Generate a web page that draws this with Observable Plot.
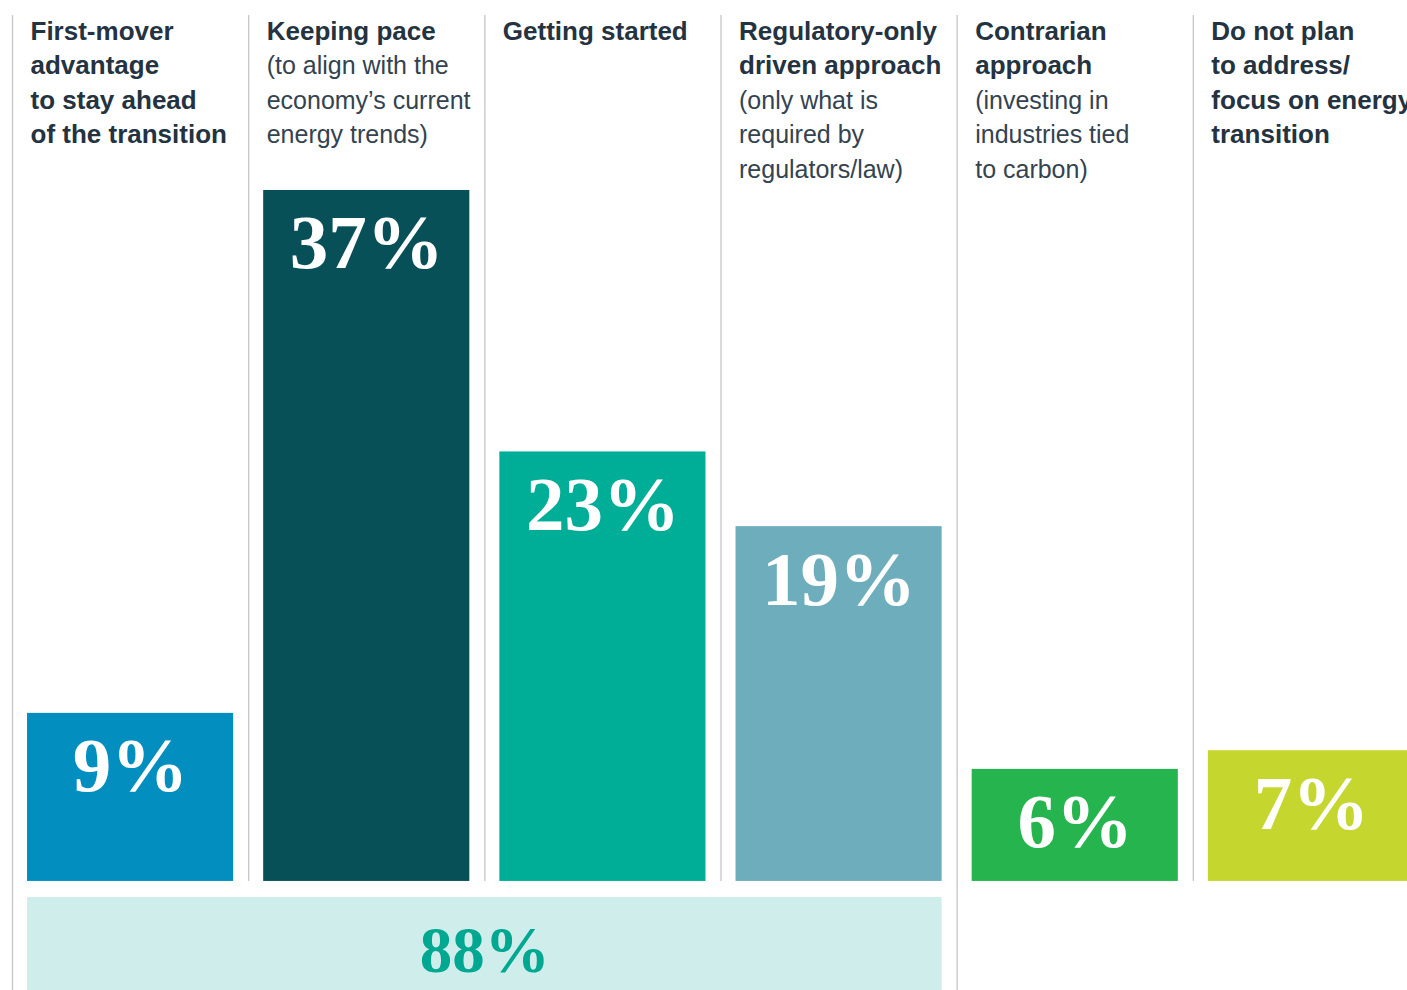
<!DOCTYPE html>
<html>
<head>
<meta charset="utf-8">
<script src="https://cdn.jsdelivr.net/npm/d3@7"></script>
<script src="https://cdn.jsdelivr.net/npm/@observablehq/plot@0.6"></script>
<style>
  html, body { margin: 0; padding: 0; background: #ffffff; overflow: hidden; }
  #chart svg { display: block; }
</style>
</head>
<body>
<div id="chart"></div>
<script>
// ---- Data ----
const categories = ["First-mover", "Keeping pace", "Getting started", "Regulatory-only", "Contrarian", "Do not plan"];
const headBold = [
  ["First-mover", "advantage", "to stay ahead", "of the transition"],
  ["Keeping pace"],
  ["Getting started"],
  ["Regulatory-only", "driven approach"],
  ["Contrarian", "approach"],
  ["Do not plan", "to address/", "focus on energy", "transition"]
];
const headSub = [
  [],
  ["(to align with the", "economy’s current", "energy trends)"],
  [],
  ["(only what is", "required by", "regulators/law)"],
  ["(investing in", "industries tied", "to carbon)"],
  []
];
const values = [9, 37, 23, 19, 6, 7];
const barColors = ["#028fc0", "#085058", "#00ae98", "#6eaebc", "#26b44e", "#c5d72e"];
const totalValue = 88;
const totalColumns = 4; // first four categories combined

// ---- Layout constants ----
const pad = 15 / 236;        // gap on each side of a bar within its column
const textInset = 18 / 236;  // header text inset
const yTop = 46.37;
const yBottom = -5.84;
const bandTop = -0.857;
const linePx = 34.4;

const rows = values.map((v, i) => ({
  i,
  cat: categories[i],
  v,
  label: v + "%",
  bold: headBold[i].join("\n"),
  sub: headSub[i].length ? "\n".repeat(headBold[i].length) + headSub[i].join("\n") : ""
}));
const total = [{label: totalValue + "%"}];

const chart = Plot.plot({
  width: 1407,
  height: 990,
  marginTop: 15,
  marginBottom: 0,
  marginLeft: 12,
  marginRight: 0,
  style: {fontFamily: "'Liberation Sans', Arial, sans-serif", background: "#ffffff", overflow: "hidden"},
  x: {domain: [0, 6], range: [12, 1429], axis: null},
  y: {domain: [yBottom, yTop], axis: null},
  color: {domain: categories, range: barColors},
  marks: [
    Plot.ruleX(rows, {
      x: "i",
      y1: d => (d.i === 0 || d.i === totalColumns) ? yBottom : 0,
      y2: yTop,
      stroke: "#c6c6c6",
      strokeWidth: 1.3
    }),
    Plot.rectY(rows, {
      x1: d => d.i + pad,
      x2: d => d.i + 1 - pad,
      y1: 0,
      y2: "v",
      fill: "cat"
    }),
    Plot.text(rows, {
      x: d => d.i + 0.5,
      y: "v",
      text: "label",
      lineAnchor: "bottom",
      dy: 78,
      fill: "#ffffff",
      fontSize: 77,
      fontWeight: "bold",
      fontFamily: "'Liberation Serif', 'Times New Roman', serif"
    }),
    Plot.rect(total, {
      x1: pad,
      x2: totalColumns - pad,
      y1: bandTop,
      y2: yBottom,
      fill: "#cfeeeb"
    }),
    Plot.text(total, {
      x: totalColumns / 2,
      y: bandTop,
      text: "label",
      lineAnchor: "bottom",
      dy: 75,
      fill: "#00a891",
      fontSize: 65,
      fontWeight: "bold",
      fontFamily: "'Liberation Serif', 'Times New Roman', serif"
    }),
    Plot.text(rows, {
      x: d => d.i + textInset,
      frameAnchor: "top",
      text: "bold",
      textAnchor: "start",
      lineAnchor: "top",
      lineHeight: linePx / 26,
      fontSize: 26,
      fontWeight: "bold",
      fill: "#24333f"
    }),
    Plot.text(rows, {
      x: d => d.i + textInset,
      frameAnchor: "top",
      text: "sub",
      textAnchor: "start",
      lineAnchor: "top",
      lineHeight: linePx / 25,
      fontSize: 25,
      fill: "#33434f"
    })
  ]
});
document.getElementById("chart").appendChild(chart);
</script>
</body>
</html>
